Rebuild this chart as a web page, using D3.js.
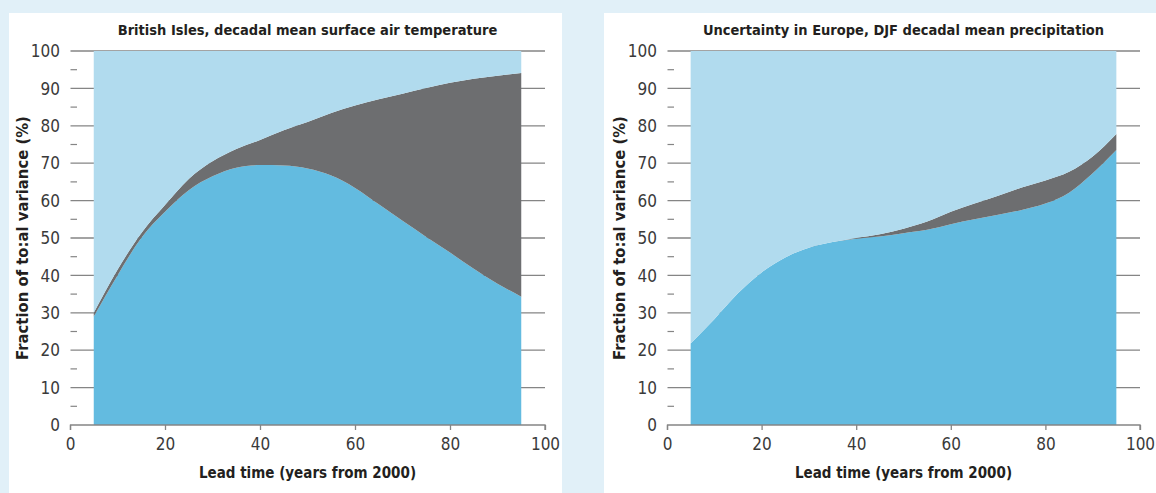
<!DOCTYPE html>
<html>
<head>
<meta charset="utf-8">
<script src="https://cdn.jsdelivr.net/npm/d3@7"></script>
<style>
  body { margin: 0; background: #e1f0f8; }
  svg { display: block; }
  text { font-family: "Liberation Sans Narrow", "DejaVu Sans Condensed", "Roboto Condensed", sans-serif; fill: #231f20; }
  .tick-label { font-size: 17px; fill: #3a3a3a; }
  .title { font-size: 14.5px; font-weight: bold; }
  .x-title { font-size: 15px; font-weight: bold; }
  .y-title { font-size: 16.5px; font-weight: bold; }
</style>
</head>
<body>
<div id="chart"></div>
<script>
// lead time, years from 2000
var leadTime = [5, 10, 15, 20, 25, 30, 35, 40, 45, 50, 55, 60, 65, 70, 75, 80, 85, 90, 95];

// British Isles, decadal mean surface air temperature (% of total variance)
var tempModel    = [29, 40, 50, 57, 62.8, 66.5, 68.8, 69.5, 69.4, 68.6, 66.7, 63.4, 59, 54.6, 50.3, 46.1, 41.8, 37.8, 34.3];
var tempScenario = [1, 1.5, 1.3, 1.8, 3.0, 4.0, 5.0, 6.7, 9.4, 12.4, 16.7, 22.0, 28.1, 34.0, 39.8, 45.4, 50.8, 55.6, 59.8];
var tempInternal = [70, 58.5, 48.7, 41.2, 34.2, 29.5, 26.2, 23.8, 21.2, 19, 16.6, 14.6, 12.9, 11.4, 9.9, 8.5, 7.4, 6.6, 5.9];

// Europe, DJF decadal mean precipitation (% of total variance)
var precModel    = [21.8, 28.3, 35.2, 40.8, 44.8, 47.4, 48.9, 49.8, 50.4, 51.3, 52.2, 53.7, 55.0, 56.2, 57.5, 59.2, 62.1, 67.3, 73.5];
var precScenario = [0, 0, 0, 0, 0, 0, 0, 0.2, 0.6, 1.2, 2.2, 3.3, 4.2, 5.1, 6.0, 6.2, 5.6, 4.5, 4.3];
var precInternal = [78.2, 71.7, 64.8, 59.2, 55.2, 52.6, 51.1, 50.0, 49.0, 47.5, 45.6, 43.0, 40.8, 38.7, 36.5, 34.6, 32.3, 28.2, 22.2];

var xTicks = [0, 20, 40, 60, 80, 100];
var yMajor = [0, 10, 20, 30, 40, 50, 60, 70, 80, 90, 100];
var yMinor = [5, 15, 25, 35, 45, 55, 65, 75, 85, 95];

var seriesKeys = ["model", "scenario", "internal"];
var colors = { model: "#63bbe0", scenario: "#6d6e70", internal: "#b1dbee" };

var width = 1156, height = 493;

var svg = d3.select("#chart").append("svg")
    .attr("width", width)
    .attr("height", height);

svg.append("rect")
    .attr("width", width)
    .attr("height", height)
    .attr("fill", "#e1f0f8");

function buildRows(model, scenario, internal) {
  return leadTime.map(function(t, i) {
    return { t: t, model: model[i], scenario: scenario[i], internal: internal[i] };
  });
}

function drawPanel(opts) {
  var g = svg.append("g");

  g.append("rect")
      .attr("x", opts.panel[0])
      .attr("y", 13)
      .attr("width", opts.panel[1] - opts.panel[0])
      .attr("height", height - 13)
      .attr("fill", "#fff");

  var x = d3.scaleLinear().domain([0, 100]).range(opts.xRange);
  var y = d3.scaleLinear().domain([0, 100]).range([425, 51]);

  // gridlines (sit behind the areas)
  g.selectAll(".grid")
    .data(yMajor.slice(1))
    .enter().append("line")
      .attr("x1", x(0) + 0.5)
      .attr("x2", x(100))
      .attr("y1", function(d) { return y(d); })
      .attr("y2", function(d) { return y(d); })
      .attr("stroke", "#858585")
      .attr("stroke-width", 1.3);

  g.selectAll(".minor")
    .data(yMinor)
    .enter().append("line")
      .attr("x1", x(0) + 0.5)
      .attr("x2", x(0) + 7)
      .attr("y1", function(d) { return y(d); })
      .attr("y2", function(d) { return y(d); })
      .attr("stroke", "#858585")
      .attr("stroke-width", 1.2);

  var stack = d3.stack().keys(seriesKeys);
  var area = d3.area()
      .x(function(d) { return x(d.data.t); })
      .y0(function(d) { return y(d[0]); })
      .y1(function(d) { return y(d[1]); })
      .curve(d3.curveMonotoneX);

  g.selectAll(".layer")
    .data(stack(opts.rows))
    .enter().append("path")
      .attr("fill", function(d) { return colors[d.key]; })
      .attr("d", area);

  // x axis
  g.append("g")
      .attr("transform", "translate(0,425)")
      .call(d3.axisBottom(x).tickValues(xTicks).tickSize(5).tickPadding(8))
      .call(function(a) {
        a.select(".domain").attr("stroke", "#858585").attr("stroke-width", 1.3)
          .attr("d", "M" + (x(0) + 0.5) + ",5V0H" + x(100) + "V5");
        a.selectAll(".tick line").attr("stroke", "#858585").attr("stroke-width", 1.3);
        a.selectAll(".tick text").attr("class", "tick-label").attr("font-family", null).attr("font-size", null).attr("fill", null);
      });

  // y labels
  g.selectAll(".ylab")
    .data(yMajor)
    .enter().append("text")
      .attr("class", "tick-label")
      .attr("x", x(0) - 10)
      .attr("y", function(d) { return y(d); })
      .attr("dy", "0.36em")
      .attr("text-anchor", "end")
      .text(function(d) { return d; });

  g.append("text")
      .attr("class", "title")
      .attr("x", (x(0) + x(100)) / 2)
      .attr("y", 35)
      .attr("text-anchor", "middle")
      .text(opts.title);

  g.append("text")
      .attr("class", "x-title")
      .attr("x", (x(0) + x(100)) / 2)
      .attr("y", 478)
      .attr("text-anchor", "middle")
      .text("Lead time (years from 2000)");

  g.append("text")
      .attr("class", "y-title")
      .attr("transform", "translate(" + opts.yTitleX + "," + y(50) + ") rotate(-90)")
      .attr("text-anchor", "middle")
      .text("Fraction of to:al variance (%)");
}

drawPanel({
  panel: [9, 562],
  xRange: [70, 545],
  yTitleX: 28,
  title: "British Isles, decadal mean surface air temperature",
  rows: buildRows(tempModel, tempScenario, tempInternal)
});

drawPanel({
  panel: [604, 1156],
  xRange: [667, 1140],
  yTitleX: 625,
  title: "Uncertainty in Europe, DJF decadal mean precipitation",
  rows: buildRows(precModel, precScenario, precInternal)
});
</script>
</body>
</html>
